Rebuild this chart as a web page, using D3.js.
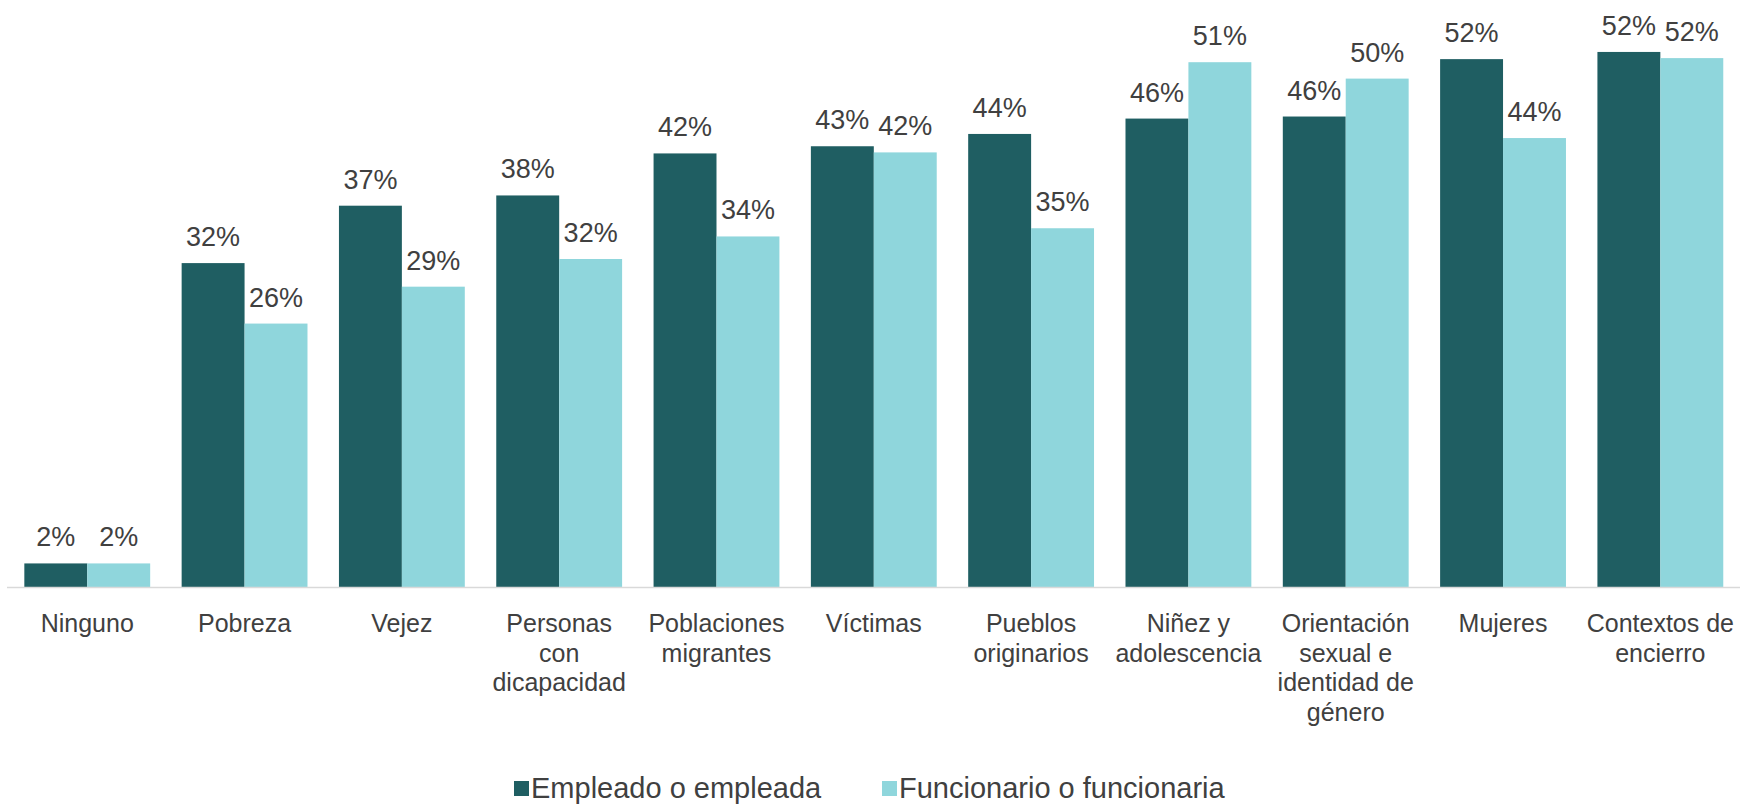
<!DOCTYPE html>
<html>
<head>
<meta charset="utf-8">
<script src="https://cdn.jsdelivr.net/npm/d3@7"></script>
<style>
  body { margin: 0; background: #fff; }
  svg { display: block; font-family: "Liberation Sans", Arial, sans-serif; }
</style>
</head>
<body>
<svg id="chart"></svg>
<script>
// Datos
const categorias = [
    ["Ninguno"],
    ["Pobreza"],
    ["Vejez"],
    ["Personas", "con", "dicapacidad"],
    ["Poblaciones", "migrantes"],
    ["Víctimas"],
    ["Pueblos", "originarios"],
    ["Niñez y", "adolescencia"],
    ["Orientación", "sexual e", "identidad de", "género"],
    ["Mujeres"],
    ["Contextos de", "encierro"]
];
const series = ["Empleado o empleada", "Funcionario o funcionaria"];
const empleado = [2.3, 31.6, 37.2, 38.2, 42.3, 43.0, 44.2, 45.7, 45.9, 51.5, 52.2];
const funcionario = [2.3, 25.7, 29.3, 32.0, 34.2, 42.4, 35.0, 51.2, 49.6, 43.8, 51.6];
const colores = ["#1f5e62", "#8fd6dc"];

const width = 1744, height = 805;
const baseline = 587;

const svg = d3.select("#chart")
    .attr("width", width)
    .attr("height", height);

const nombres = categorias.map(c => c.join(" "));

const x = d3.scaleBand()
    .domain(nombres)
    .range([8.6, 1739])
    .paddingInner(0.2)
    .paddingOuter(0.1);

const xSub = d3.scaleBand()
    .domain(series)
    .range([0, x.bandwidth()]);

const y = d3.scaleLinear()
    .domain([0, 100])
    .range([baseline, baseline - 1025]);

const datos = nombres.map((n, i) => ({
    cat: n,
    valores: [empleado[i], funcionario[i]]
}));

// Barras
const grupos = svg.append("g")
    .selectAll("g")
    .data(datos)
    .join("g")
    .attr("transform", d => `translate(${x(d.cat)},0)`);

grupos.selectAll("rect")
    .data(d => d.valores.map((v, j) => ({ serie: series[j], v: v, j: j })))
    .join("rect")
    .attr("x", d => xSub(d.serie))
    .attr("y", d => y(d.v))
    .attr("width", xSub.bandwidth())
    .attr("height", d => baseline - y(d.v))
    .attr("fill", d => colores[d.j]);

// Etiquetas de valor
grupos.selectAll("text")
    .data(d => d.valores.map((v, j) => ({ serie: series[j], v: v })))
    .join("text")
    .attr("x", d => xSub(d.serie) + xSub.bandwidth() / 2)
    .attr("y", d => y(d.v) - 17)
    .attr("text-anchor", "middle")
    .attr("fill", "#404040")
    .style("font-size", "27px")
    .text(d => `${Math.round(d.v)}%`);

// Eje horizontal
svg.append("line")
    .attr("x1", 7)
    .attr("x2", 1740)
    .attr("y1", baseline + 0.5)
    .attr("y2", baseline + 0.5)
    .attr("stroke", "#d9d9d9")
    .attr("stroke-width", 1.5);

// Etiquetas de categoría
const etiquetas = svg.append("g")
    .selectAll("text")
    .data(categorias)
    .join("text")
    .attr("x", (d, i) => x(nombres[i]) + x.bandwidth() / 2)
    .attr("y", 632)
    .attr("text-anchor", "middle")
    .attr("fill", "#404040")
    .style("font-size", "25px");

etiquetas.selectAll("tspan")
    .data(d => d)
    .join("tspan")
    .attr("x", function() { return d3.select(this.parentNode).attr("x"); })
    .attr("dy", (d, i) => i === 0 ? 0 : 29.5)
    .text(d => d);

// Leyenda
const leyenda = svg.append("g");
const posLeyenda = [514, 882];
series.forEach((s, i) => {
    leyenda.append("rect")
        .attr("x", posLeyenda[i])
        .attr("y", 781)
        .attr("width", 15)
        .attr("height", 15)
        .attr("fill", colores[i]);
    leyenda.append("text")
        .attr("x", posLeyenda[i] + 17)
        .attr("y", 798)
        .attr("fill", "#404040")
        .style("font-size", "29px")
        .text(s);
});
</script>
</body>
</html>
